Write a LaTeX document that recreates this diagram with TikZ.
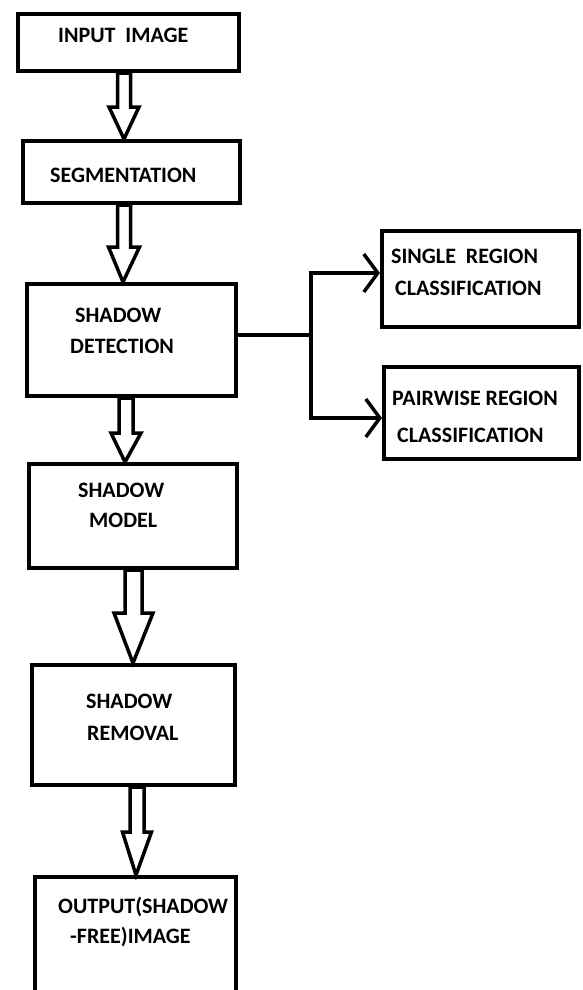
\documentclass[tikz,border=0pt]{standalone}
\usepackage{fontspec}
\setmainfont{Carlito}
\usetikzlibrary{arrows.meta,calc}
\tikzset{
  box/.style={draw=black, line width=4pt, inner sep=0pt, fill=white},
  lbl/.style={anchor=base west, inner sep=0pt, font=\bfseries\fontsize{22}{26}\selectfont},
  blockarr/.style={draw=black, line width=3.5pt, fill=white, line join=miter},
  conn/.style={draw=black, line width=3.5pt},
  barb/.style={conn, -{Straight Barb[length=14pt,width=38pt,line width=3.5pt]}}
}
\newcommand{\blockarrow}[7]{% from, to, cx, shaft half, head half, head y, tip x
  \draw[blockarr] let \p1=(#1.south), \p2=(#2.north) in
    ({(#3-#4)*1pt},\y1) -- ({(#3-#4)*1pt},{-#6pt}) -- ({(#3-#5)*1pt},{-#6pt})
    -- ({#7*1pt},\y2) -- ({(#3+#5)*1pt},{-#6pt}) -- ({(#3+#4)*1pt},{-#6pt})
    -- ({(#3+#4)*1pt},\y1) -- cycle;}
\begin{document}
\begin{tikzpicture}[x=1pt,y=-1pt]
\clip (0,0) rectangle (582,990);
\fill[white] (0,0) rectangle (582,990);
% boxes
\node[box, minimum width=221pt, minimum height=57pt] (inp) at (128.5,42.5) {};
\node[box, minimum width=217pt, minimum height=62pt] (seg) at (131.5,172) {};
\node[box, minimum width=209pt, minimum height=112pt] (det) at (131.5,340) {};
\node[box, minimum width=197pt, minimum height=96pt] (single) at (480.5,279) {};
\node[box, minimum width=195pt, minimum height=92pt] (pair) at (481.5,413) {};
\node[box, minimum width=208pt, minimum height=104pt] (model) at (133,516) {};
\node[box, minimum width=203pt, minimum height=120pt] (rem) at (133.5,725) {};
\node[box, minimum width=201pt, minimum height=140pt] (out) at (135.5,947) {};
% labels
\node[lbl] (t1) at (58,43) {INPUT\ \ IMAGE};
\node[lbl] (t2) at (50,182) {SEGMENTATION};
\node[lbl] (t3a) at (75,322) {SHADOW};
\node[lbl] (t3b) at (70,353) {DETECTION};
\node[lbl] (t4a) at (391,263) {SINGLE\ \ REGION};
\node[lbl] (t4b) at (395,295) {CLASSIFICATION};
\node[lbl] (t5a) at (392,405) {PAIRWISE REGION};
\node[lbl] (t5b) at (397,442) {CLASSIFICATION};
\node[lbl] (t6a) at (78,497) {SHADOW};
\node[lbl] (t6b) at (89,527) {MODEL};
\node[lbl] (t7a) at (86,708) {SHADOW};
\node[lbl] (t7b) at (87,740) {REMOVAL};
\node[lbl] (t8a) at (58,913) {OUTPUT(SHADOW};
\node[lbl] (t8b) at (70,943) {-FREE)IMAGE};
% block arrows
\blockarrow{inp}{seg}{124}{6.5}{15}{107}{124}
\blockarrow{seg}{det}{124}{6.5}{15.5}{247}{123}
\blockarrow{det}{model}{126}{7}{15}{433}{125}
\blockarrow{model}{rem}{133.5}{8.5}{19.5}{613}{133}
\blockarrow{rem}{out}{137}{7}{14.5}{832}{136}
% branch
\coordinate (split) at (311,335);
\draw[conn] ([yshift=5pt]det.east) -- (split);
\draw[barb] (split) |- ([yshift=6pt]single.west);
\draw[barb] (split) |- ([yshift=-5pt]pair.west);
\end{tikzpicture}
\end{document}
